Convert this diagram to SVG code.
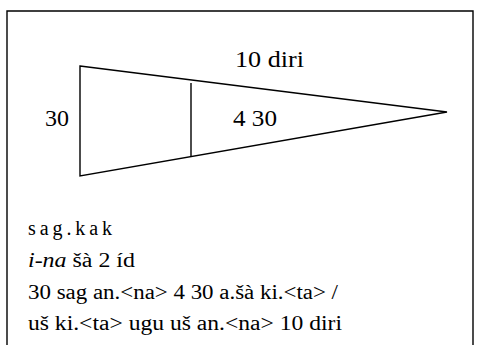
<svg xmlns="http://www.w3.org/2000/svg" width="485" height="345" viewBox="0 0 485 345">
<style>
.ln{fill:none;stroke:#000;stroke-width:1.4}
.lb{font-family:"Liberation Serif","Times New Roman",serif;font-size:23px;fill:#000}
.tx{font-family:"Liberation Serif","Times New Roman",serif;font-size:20px;fill:#000}
</style>
<rect x="0" y="0" width="485" height="345" fill="#fff"/>
<path class="ln" d="M7,360 V11 H473 V360" stroke="#222"/>
<g id="figure">
<polygon class="ln" points="80,66 447,112 80,176"/>
<line class="ln" x1="191" y1="83" x2="191" y2="157"/>
</g>
<g id="labels">
<text class="lb" x="235" y="67" textLength="69" lengthAdjust="spacingAndGlyphs">10 diri</text>
<text class="lb" x="45" y="126" textLength="24" lengthAdjust="spacingAndGlyphs">30</text>
<text class="lb" x="233" y="126" textLength="44" lengthAdjust="spacingAndGlyphs">4 30</text>
</g>
<g id="transliteration">
<text class="tx" x="28" y="235" textLength="84" lengthAdjust="spacing">sag.kak</text>
<text class="tx" x="28" y="267" textLength="107" lengthAdjust="spacingAndGlyphs"><tspan font-style="italic">i-na</tspan> šà 2 íd</text>
<text class="tx" x="28" y="299" textLength="310" lengthAdjust="spacingAndGlyphs">30 sag an.&lt;na&gt; 4 30 a.šà ki.&lt;ta&gt; /</text>
<text class="tx" x="28" y="330" textLength="314" lengthAdjust="spacingAndGlyphs">uš ki.&lt;ta&gt; ugu uš an.&lt;na&gt; 10 diri</text>
</g>
</svg>
